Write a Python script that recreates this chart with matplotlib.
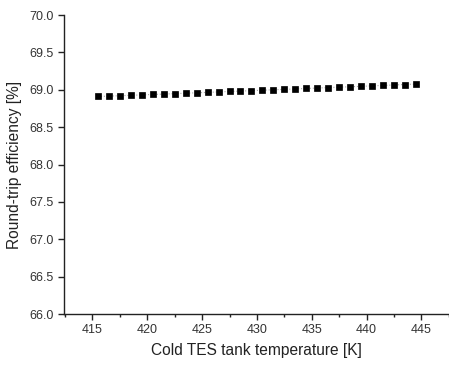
import matplotlib
matplotlib.use("Agg")
import matplotlib.pyplot as plt
from matplotlib.ticker import MultipleLocator, FormatStrFormatter

plt.rcParams['font.family'] = ['Liberation Sans', 'DejaVu Sans']

temperature = [415.5, 416.5, 417.5, 418.5, 419.5, 420.5, 421.5, 422.5, 423.5, 424.5,
               425.5, 426.5, 427.5, 428.5, 429.5, 430.5, 431.5, 432.5, 433.5, 434.5,
               435.5, 436.5, 437.5, 438.5, 439.5, 440.5, 441.5, 442.5, 443.5, 444.5]
efficiency = [68.91, 68.915, 68.92, 68.926, 68.931, 68.937, 68.942, 68.948, 68.954, 68.959,
              68.965, 68.971, 68.977, 68.982, 68.988, 68.994, 69.0, 69.005, 69.011, 69.017,
              69.023, 69.029, 69.035, 69.04, 69.046, 69.052, 69.058, 69.064, 69.07, 69.077]

fig = plt.figure(figsize=(4.49, 3.65), dpi=100)
ax = fig.add_axes([0.1425, 0.1397, 0.857, 0.8192])

ax.plot(temperature, efficiency, linestyle=':', color='#aaaaaa', linewidth=0.8,
        marker='s', markersize=4.6, markerfacecolor='black', markeredgecolor='black',
        markeredgewidth=0.5)

ax.set_xlim(412.4, 447.5)
ax.set_ylim(66.0, 70.0)
ax.xaxis.set_major_locator(MultipleLocator(5))
ax.xaxis.set_minor_locator(MultipleLocator(2.5))
ax.yaxis.set_major_locator(MultipleLocator(0.5))
ax.yaxis.set_major_formatter(FormatStrFormatter('%.1f'))

for s in ['top', 'right']:
    ax.spines[s].set_visible(False)
for s in ['left', 'bottom']:
    ax.spines[s].set_linewidth(1.0)
    ax.spines[s].set_color('#222222')

ax.tick_params(axis='both', which='major', direction='out', length=4, width=1,
               labelsize=9, colors='#222222', labelcolor='#333333')
ax.tick_params(axis='x', which='minor', direction='out', length=2, width=1, colors='#222222')

ax.set_xlabel('Cold TES tank temperature [K]', fontsize=11.2, color='#222222', labelpad=5)
ax.set_ylabel('Round-trip efficiency [%]', fontsize=11.2, color='#222222', labelpad=5)

fig.savefig('out.png', dpi=100)
